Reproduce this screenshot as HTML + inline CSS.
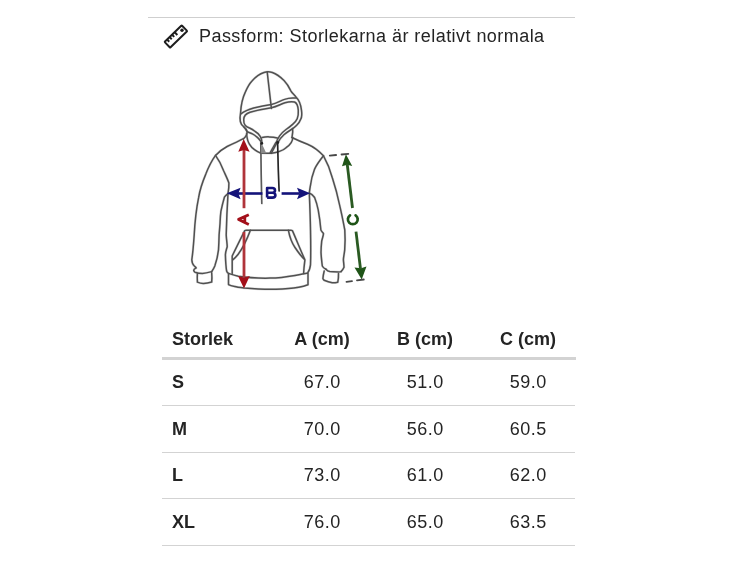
<!DOCTYPE html>
<html><head><meta charset="utf-8">
<style>
html,body{margin:0;padding:0;background:#fff;width:750px;height:563px;overflow:hidden;position:relative;font-family:"Liberation Sans",sans-serif;color:#242424;}
.abs{position:absolute;white-space:nowrap;}
.hr{position:absolute;background:#d3d3d3;}
.t{position:absolute;white-space:nowrap;font-size:18px;line-height:20px;will-change:transform;}
.b{font-weight:bold;}
.c{text-align:center;}
.n{letter-spacing:0.5px;text-indent:0.5px;}
</style></head><body>
<div class="hr" style="left:148px;top:17px;width:427px;height:1.2px;background:#cfcfcf"></div>
<svg class="abs" style="left:0;top:0" width="200" height="60" viewBox="0 0 200 60"><g transform="translate(175.9,36.5) rotate(-44)" fill="none" stroke="#1e1e1e" stroke-width="2"><rect x="-11.9" y="-4" width="23.8" height="8" rx="0.6" stroke-linejoin="round"/><path d="M-8.4,-3.9 V-0.9 M-4.9,-3.9 V-0.9 M-1.5,-3.9 V-0.9 M2.1,-3.9 V-0.1"/></g><circle cx="182" cy="30.3" r="1.7" fill="#1e1e1e"/></svg>
<div class="t" id="pf" style="left:199px;top:26px;font-size:18px;letter-spacing:0.45px;">Passform: Storlekarna är relativt normala</div>

<svg class="abs" id="hood" style="left:0;top:0" width="750" height="310" viewBox="0 0 750 310"><g fill="none" stroke-linecap="round" stroke-linejoin="round" stroke="#dedede" stroke-width="2.5">
<path d="M243.5,138.7 C246,136.5 247.2,134 247.1,131.6 C246.8,129.5 245.5,128 243.5,126.5 C240.5,124.5 239.4,119 240.6,112.6 C241,105 242.5,98 245.3,92.1 C247.5,87 249.5,83.5 252,80.9 C255.5,77 259.5,74 264,72.5 C267,71.5 270,71.8 272.3,72.5 C276,73.8 280,76.5 284,80.5 C287,83.5 289.5,88 291,91.1 C292,93 294,94.5 296,97 C298.5,99.5 300.8,104 301.5,110.3 C302,114 301.8,117 300.9,118.8 C300,121.5 298.5,123.5 296.7,125.2 C295,127 293.2,128.3 291.3,129.5 C288.5,131.3 286,133 283.9,134.8 C281.5,137 279.5,139.5 278,142.3"/>
<path d="M292.6,128.6 C293,131 292.6,134.5 292,137.4"/>
<path d="M267.2,72 L271.4,108.4"/>
<path d="M240.9,113.9 C244,111.5 248,109.6 253.7,108 C260,106.5 266,105.3 271.4,104.4 C276.5,103.4 280,101 284.5,99.4 C288,98 292,97.6 296.2,98.1"/>
<path d="M262,143 C261.8,140 261.3,138 260.4,136.7 C259,134.3 257.3,132.6 255.2,131.5 C253.5,130.2 251.8,129 250,128.2 C248,127.5 246.3,126.8 245.3,125.6 C243.9,124 243.6,121.8 243.7,119.5 C243.8,115.5 246.5,113.5 250,112.3 C257,110.2 264,108.8 271.4,107.7 C277,106.6 280.5,104.2 285,102.8 C288.5,101.7 292,101.5 294.5,102 C297,103 298,106 298.3,110.3 C298.5,114 298,117 297.2,118.8 C296.2,121 294.7,122.8 292.9,124.1 C290.8,126 288.5,127.8 286,129.5 C283.5,131.3 281.3,133.5 279.6,135.9 C278.2,138 277,140 276.4,142.3"/>
<path d="M243.5,126.5 C245.5,128.5 246.5,130.5 247.3,131.8 C249,132.6 250.8,133.2 252.4,133.9 C254,134.7 255.4,135.6 256.5,136.7 C258.3,138.2 259.7,139.6 260.6,141 L261.5,143.5"/>
<path d="M262,137.6 C264.5,137 267,136.8 269.2,136.9 C272,137 275,137.4 277.3,138"/>
<path d="M246.6,133.8 C247,138.5 248,142 249.4,144.1 C251,146.8 253,148.6 254.5,149.7 C256.5,151.2 258.5,152.4 260.4,152.9 C262.5,153.4 264.5,153.4 266.3,153.3 L271.4,153.3 C274,153 277,152.4 279.5,151.4 C282,150.5 284.5,149.2 286.1,147.7 C288.5,146 290,144.5 291.2,142.6 C292.3,140.8 292.8,139 292.7,137.5"/>
<path d="M277.3,141.9 L271.4,153.2"/>
<path d="M275.8,142.5 L270.2,152.6"/>
<path d="M243.5,138.7 C238,141.5 233,143.8 227.1,146.5 C222.5,149 218.5,152 215.5,155.4 C211.5,161 208.5,167 205.8,174.1 C202.5,182 200,189 198.7,197.2 C196.5,208 195,220 194.2,235 C193.5,245 193,252 191.8,259.8 C192,263 193,265 194.3,266 C195.2,266.8 196.2,267.5 196.2,267.9 C195,268.6 193.7,269.5 193.7,270.3 C194,271.5 194.5,272 194.9,272.2 C197.5,273 200,273.4 202.4,273.4 C205.5,273.3 208.5,272.5 211.7,271.6"/>
<path d="M197.4,273.4 C197.2,276 197.2,279 197.4,282.1 C199.5,283 201.5,283.5 203.6,283.4 C206.5,283.3 209,282.8 211.7,282.1 C212,279 212,276 211.7,272.8"/>
<path d="M215.5,155.4 C218.5,159.5 221.5,165 223.5,170.5 C225.5,175 227.5,179 228.9,183 C229,187 228.6,190 228,193.6 C227.3,205 226.6,220 226.2,235 C226.5,240 227.2,244 227.2,246.7 C226.5,249.5 225.4,252 225.4,254.8 C225.6,262 226,267 226.6,271 C227,272.2 227.6,273 228.5,273.4"/>
<path d="M228,193.6 C226.5,194.8 225.2,196 224.4,197.2 C223,202 221.8,207 220.9,211.4 C220.3,216 220.2,220 220,223.8 C219.7,228 219.4,231 219.1,235 C219,240 218.8,245 218.5,249.8 C217.8,256 216.5,261 214.8,266 C213.8,268.5 212.8,270 211.7,271.6"/>
<path d="M291.9,137.5 C297,140 302.5,142.3 307.5,144.2 C313,146.5 318.5,150.5 323.5,155.8 C327,162 330,169 332.4,178 C335,186 337.5,195 339.5,204.6 C341.5,213 343.3,222 344.8,230 C345.3,238 345.2,244 344.7,249.9 C344.3,254 343.5,257 343.4,259.8 C343.5,262 344,265 344,267.3 C343.3,269 342.3,270.5 341,271.6"/>
<path d="M326,269.2 C327,270.5 328.3,271.3 329.8,271.6 C332.5,272 335.5,272 338.5,272 C339.5,271.9 340.4,271.8 341,271.6"/>
<path d="M324.2,271 C323.6,273.5 323.1,276 322.9,278.5 C323.1,279.3 323.6,279.8 324.2,280.3 C327,281.5 329.5,282.3 332.2,282.8 C334,282.9 336,282.6 337.8,282.2 C338.3,279.5 338.6,276.5 338.5,273.5"/>
<path d="M323.5,155.8 C320.5,159.5 317,164 314.6,169.1 C312.5,174.5 311,180.5 310.2,186.8 C309.8,189 309.5,191.5 309.3,193 C309.8,205 310.3,218 310.5,230 C310.8,245 310.9,255 310.5,264.8 C310,268 309.2,270.8 308,272.3"/>
<path d="M309.3,193 C311.5,194 313.3,195.5 314.6,197.5 C316,201 317.3,205.5 318.2,209.9 C319.3,216 320.3,223 320.9,230 C321.5,231.5 322.8,232.5 323.5,233.7 C323.2,236.5 322.2,238.5 321.7,241.2 C321.3,245 321,249 321,252.4 C321.2,257 321.8,262 322.3,266 C323,267.5 324.5,268.6 326,269.2"/>
<path d="M228.5,273.4 C232,274.6 235,275.6 238.3,276.3 C248,277.8 258,278.3 270,278.1 C280,277.9 288,276.6 294.9,275.4 C299.5,274.6 304,273.8 308,272.9 L308,284.7 C305,285.8 302,286.6 298.7,287.2 C292,288.4 285,289 276,289.3 C265,289.6 255,289 244,288 C240,287.5 236.5,287 234.7,286.5 C232,286 230,285.5 228.5,284.6 Z"/>
<path d="M232.2,273.4 L232.2,256 C236,248 241,238 244.6,230.8 C245,230.4 245.5,230.2 246.5,230.2 L291,230.2 C291.8,230.2 292.2,230.5 292.4,230.6 C296.5,240 300.5,250 304.9,259.8 C304.3,264.5 303.8,269 303.6,273.5"/>
<path d="M250.4,230.3 C247.5,238 243,248 238,254.5 C236,257 234.5,258.5 232.8,259.8"/>
<path d="M288.4,230.3 C289.5,236 292,243 295,247.5 C298,252 301,256 304.3,259.2"/>
</g><g fill="none" stroke-linecap="round" stroke-linejoin="round" stroke="#505050" stroke-width="1.5">
<path d="M243.5,138.7 C246,136.5 247.2,134 247.1,131.6 C246.8,129.5 245.5,128 243.5,126.5 C240.5,124.5 239.4,119 240.6,112.6 C241,105 242.5,98 245.3,92.1 C247.5,87 249.5,83.5 252,80.9 C255.5,77 259.5,74 264,72.5 C267,71.5 270,71.8 272.3,72.5 C276,73.8 280,76.5 284,80.5 C287,83.5 289.5,88 291,91.1 C292,93 294,94.5 296,97 C298.5,99.5 300.8,104 301.5,110.3 C302,114 301.8,117 300.9,118.8 C300,121.5 298.5,123.5 296.7,125.2 C295,127 293.2,128.3 291.3,129.5 C288.5,131.3 286,133 283.9,134.8 C281.5,137 279.5,139.5 278,142.3"/>
<path d="M292.6,128.6 C293,131 292.6,134.5 292,137.4"/>
<path d="M267.2,72 L271.4,108.4"/>
<path d="M240.9,113.9 C244,111.5 248,109.6 253.7,108 C260,106.5 266,105.3 271.4,104.4 C276.5,103.4 280,101 284.5,99.4 C288,98 292,97.6 296.2,98.1"/>
<path d="M262,143 C261.8,140 261.3,138 260.4,136.7 C259,134.3 257.3,132.6 255.2,131.5 C253.5,130.2 251.8,129 250,128.2 C248,127.5 246.3,126.8 245.3,125.6 C243.9,124 243.6,121.8 243.7,119.5 C243.8,115.5 246.5,113.5 250,112.3 C257,110.2 264,108.8 271.4,107.7 C277,106.6 280.5,104.2 285,102.8 C288.5,101.7 292,101.5 294.5,102 C297,103 298,106 298.3,110.3 C298.5,114 298,117 297.2,118.8 C296.2,121 294.7,122.8 292.9,124.1 C290.8,126 288.5,127.8 286,129.5 C283.5,131.3 281.3,133.5 279.6,135.9 C278.2,138 277,140 276.4,142.3"/>
<path d="M243.5,126.5 C245.5,128.5 246.5,130.5 247.3,131.8 C249,132.6 250.8,133.2 252.4,133.9 C254,134.7 255.4,135.6 256.5,136.7 C258.3,138.2 259.7,139.6 260.6,141 L261.5,143.5"/>
<path d="M262,137.6 C264.5,137 267,136.8 269.2,136.9 C272,137 275,137.4 277.3,138"/>
<path d="M246.6,133.8 C247,138.5 248,142 249.4,144.1 C251,146.8 253,148.6 254.5,149.7 C256.5,151.2 258.5,152.4 260.4,152.9 C262.5,153.4 264.5,153.4 266.3,153.3 L271.4,153.3 C274,153 277,152.4 279.5,151.4 C282,150.5 284.5,149.2 286.1,147.7 C288.5,146 290,144.5 291.2,142.6 C292.3,140.8 292.8,139 292.7,137.5"/>
<path d="M277.3,141.9 L271.4,153.2"/>
<path d="M275.8,142.5 L270.2,152.6"/>
<path d="M243.5,138.7 C238,141.5 233,143.8 227.1,146.5 C222.5,149 218.5,152 215.5,155.4 C211.5,161 208.5,167 205.8,174.1 C202.5,182 200,189 198.7,197.2 C196.5,208 195,220 194.2,235 C193.5,245 193,252 191.8,259.8 C192,263 193,265 194.3,266 C195.2,266.8 196.2,267.5 196.2,267.9 C195,268.6 193.7,269.5 193.7,270.3 C194,271.5 194.5,272 194.9,272.2 C197.5,273 200,273.4 202.4,273.4 C205.5,273.3 208.5,272.5 211.7,271.6"/>
<path d="M197.4,273.4 C197.2,276 197.2,279 197.4,282.1 C199.5,283 201.5,283.5 203.6,283.4 C206.5,283.3 209,282.8 211.7,282.1 C212,279 212,276 211.7,272.8"/>
<path d="M215.5,155.4 C218.5,159.5 221.5,165 223.5,170.5 C225.5,175 227.5,179 228.9,183 C229,187 228.6,190 228,193.6 C227.3,205 226.6,220 226.2,235 C226.5,240 227.2,244 227.2,246.7 C226.5,249.5 225.4,252 225.4,254.8 C225.6,262 226,267 226.6,271 C227,272.2 227.6,273 228.5,273.4"/>
<path d="M228,193.6 C226.5,194.8 225.2,196 224.4,197.2 C223,202 221.8,207 220.9,211.4 C220.3,216 220.2,220 220,223.8 C219.7,228 219.4,231 219.1,235 C219,240 218.8,245 218.5,249.8 C217.8,256 216.5,261 214.8,266 C213.8,268.5 212.8,270 211.7,271.6"/>
<path d="M291.9,137.5 C297,140 302.5,142.3 307.5,144.2 C313,146.5 318.5,150.5 323.5,155.8 C327,162 330,169 332.4,178 C335,186 337.5,195 339.5,204.6 C341.5,213 343.3,222 344.8,230 C345.3,238 345.2,244 344.7,249.9 C344.3,254 343.5,257 343.4,259.8 C343.5,262 344,265 344,267.3 C343.3,269 342.3,270.5 341,271.6"/>
<path d="M326,269.2 C327,270.5 328.3,271.3 329.8,271.6 C332.5,272 335.5,272 338.5,272 C339.5,271.9 340.4,271.8 341,271.6"/>
<path d="M324.2,271 C323.6,273.5 323.1,276 322.9,278.5 C323.1,279.3 323.6,279.8 324.2,280.3 C327,281.5 329.5,282.3 332.2,282.8 C334,282.9 336,282.6 337.8,282.2 C338.3,279.5 338.6,276.5 338.5,273.5"/>
<path d="M323.5,155.8 C320.5,159.5 317,164 314.6,169.1 C312.5,174.5 311,180.5 310.2,186.8 C309.8,189 309.5,191.5 309.3,193 C309.8,205 310.3,218 310.5,230 C310.8,245 310.9,255 310.5,264.8 C310,268 309.2,270.8 308,272.3"/>
<path d="M309.3,193 C311.5,194 313.3,195.5 314.6,197.5 C316,201 317.3,205.5 318.2,209.9 C319.3,216 320.3,223 320.9,230 C321.5,231.5 322.8,232.5 323.5,233.7 C323.2,236.5 322.2,238.5 321.7,241.2 C321.3,245 321,249 321,252.4 C321.2,257 321.8,262 322.3,266 C323,267.5 324.5,268.6 326,269.2"/>
<path d="M228.5,273.4 C232,274.6 235,275.6 238.3,276.3 C248,277.8 258,278.3 270,278.1 C280,277.9 288,276.6 294.9,275.4 C299.5,274.6 304,273.8 308,272.9 L308,284.7 C305,285.8 302,286.6 298.7,287.2 C292,288.4 285,289 276,289.3 C265,289.6 255,289 244,288 C240,287.5 236.5,287 234.7,286.5 C232,286 230,285.5 228.5,284.6 Z"/>
<path d="M232.2,273.4 L232.2,256 C236,248 241,238 244.6,230.8 C245,230.4 245.5,230.2 246.5,230.2 L291,230.2 C291.8,230.2 292.2,230.5 292.4,230.6 C296.5,240 300.5,250 304.9,259.8 C304.3,264.5 303.8,269 303.6,273.5"/>
<path d="M250.4,230.3 C247.5,238 243,248 238,254.5 C236,257 234.5,258.5 232.8,259.8"/>
<path d="M288.4,230.3 C289.5,236 292,243 295,247.5 C298,252 301,256 304.3,259.2"/>
</g>
<!-- drawstrings -->
<g fill="none" stroke-width="1.7" stroke-linecap="round">
<path d="M260.8,143 L261.2,175 L261.8,203.5" stroke="#5a5a5a"/>
<path d="M277.6,142 L278.3,170 L279.1,191" stroke="#262626"/>
</g>
<path d="M261.1,142 L266.3,153.2 L261.1,153.2 Z" fill="#8a8a8a" stroke="none"/><circle cx="261.8" cy="143.4" r="1.4" fill="#222"/><circle cx="277.8" cy="142.6" r="1.4" fill="#222"/>
<!-- blue arrow B -->
<g fill="#14137a" stroke="none">
<rect x="236" y="192.2" width="26.4" height="2.6"/>
<rect x="281.6" y="192.2" width="18" height="2.6"/>
<path d="M226.8,193.3 L240.6,187.8 L238.3,193.5 L240.6,199.2 Z"/>
<path d="M310.2,193.3 L297,187.8 L299.3,193.5 L297,199.2 Z"/>
</g>
<path d="M267.1,197.6 V188 H272.3 C274.3,188 275,189.2 275,190.4 C275,191.8 274,192.7 272.3,192.7 H267.1 M272.3,192.7 C274.5,192.7 275.4,193.9 275.4,195.3 C275.4,196.7 274.5,197.6 272.3,197.6 H267.1" fill="none" stroke="#14137a" stroke-width="2.6" stroke-linejoin="round"/>
<!-- red arrow A -->
<g fill="#b0343a" stroke="none">
<rect x="242.6" y="150" width="2.8" height="58.2"/>
<rect x="242.6" y="232" width="2.8" height="45"/>
</g>
<g fill="#a3101a" stroke="none">
<path d="M243.7,138.9 L249.6,151.8 L243.9,150 L238.3,151.8 Z"/>
<path d="M244,288.4 L249.8,276 L244,277.5 L238,276 Z"/>
</g>
<path d="M248.8,214.8 L238.6,219.4 L248.8,224.4 M244.8,216.6 L244.8,222.3" fill="none" stroke="#a3101a" stroke-width="2.8" stroke-linejoin="round"/>
<!-- green arrow C -->
<g fill="#1f5418" stroke="none">
<path d="M345.9,154.3 L352.2,166 L347.3,164.8 L342,166.3 Z"/>
<path d="M361.7,279.5 L366.5,266.5 L361,268.3 L354.5,267.5 Z"/>
</g>
<g stroke="#2a5a22" stroke-width="2.8" fill="none">
<path d="M347.2,164 L352.5,208"/>
<path d="M356,231.6 L360.5,269"/>
</g>
<path d="M355.6,215.3 A4.9,4.9 0 1 1 350,215.3" fill="none" stroke="#1f5418" stroke-width="2.7" stroke-linecap="round"/>
<g stroke="#474747" stroke-width="1.8" fill="none" stroke-linecap="round">
<path d="M329.8,155.7 L336.1,155"/>
<path d="M341.5,154.5 L348.3,153.8"/>
<path d="M346.5,281.8 L352,281.2"/>
<path d="M357,280.4 L363.8,279.5"/>
</g>
</svg>

<div class="t b" style="left:172px;top:329px;">Storlek</div>
<div class="t b c" style="left:272px;top:329px;width:100px;">A (cm)</div>
<div class="t b c" style="left:375px;top:329px;width:100px;">B (cm)</div>
<div class="t b c" style="left:478px;top:329px;width:100px;">C (cm)</div>
<div class="hr" style="left:162px;top:357px;width:414px;height:2.6px;"></div>

<div class="t b" style="left:172px;top:372px;">S</div>
<div class="t c n" style="left:272px;top:372px;width:100px;">67.0</div>
<div class="t c n" style="left:375px;top:372px;width:100px;">51.0</div>
<div class="t c n" style="left:478px;top:372px;width:100px;">59.0</div>
<div class="hr" style="left:162px;top:405px;width:413px;height:1px;"></div>

<div class="t b" style="left:172px;top:419px;">M</div>
<div class="t c n" style="left:272px;top:419px;width:100px;">70.0</div>
<div class="t c n" style="left:375px;top:419px;width:100px;">56.0</div>
<div class="t c n" style="left:478px;top:419px;width:100px;">60.5</div>
<div class="hr" style="left:162px;top:452px;width:413px;height:1px;"></div>

<div class="t b" style="left:172px;top:465px;">L</div>
<div class="t c n" style="left:272px;top:465px;width:100px;">73.0</div>
<div class="t c n" style="left:375px;top:465px;width:100px;">61.0</div>
<div class="t c n" style="left:478px;top:465px;width:100px;">62.0</div>
<div class="hr" style="left:162px;top:498px;width:413px;height:1px;"></div>

<div class="t b" style="left:172px;top:512px;">XL</div>
<div class="t c n" style="left:272px;top:512px;width:100px;">76.0</div>
<div class="t c n" style="left:375px;top:512px;width:100px;">65.0</div>
<div class="t c n" style="left:478px;top:512px;width:100px;">63.5</div>
<div class="hr" style="left:162px;top:545px;width:413px;height:1px;"></div>
</body></html>
